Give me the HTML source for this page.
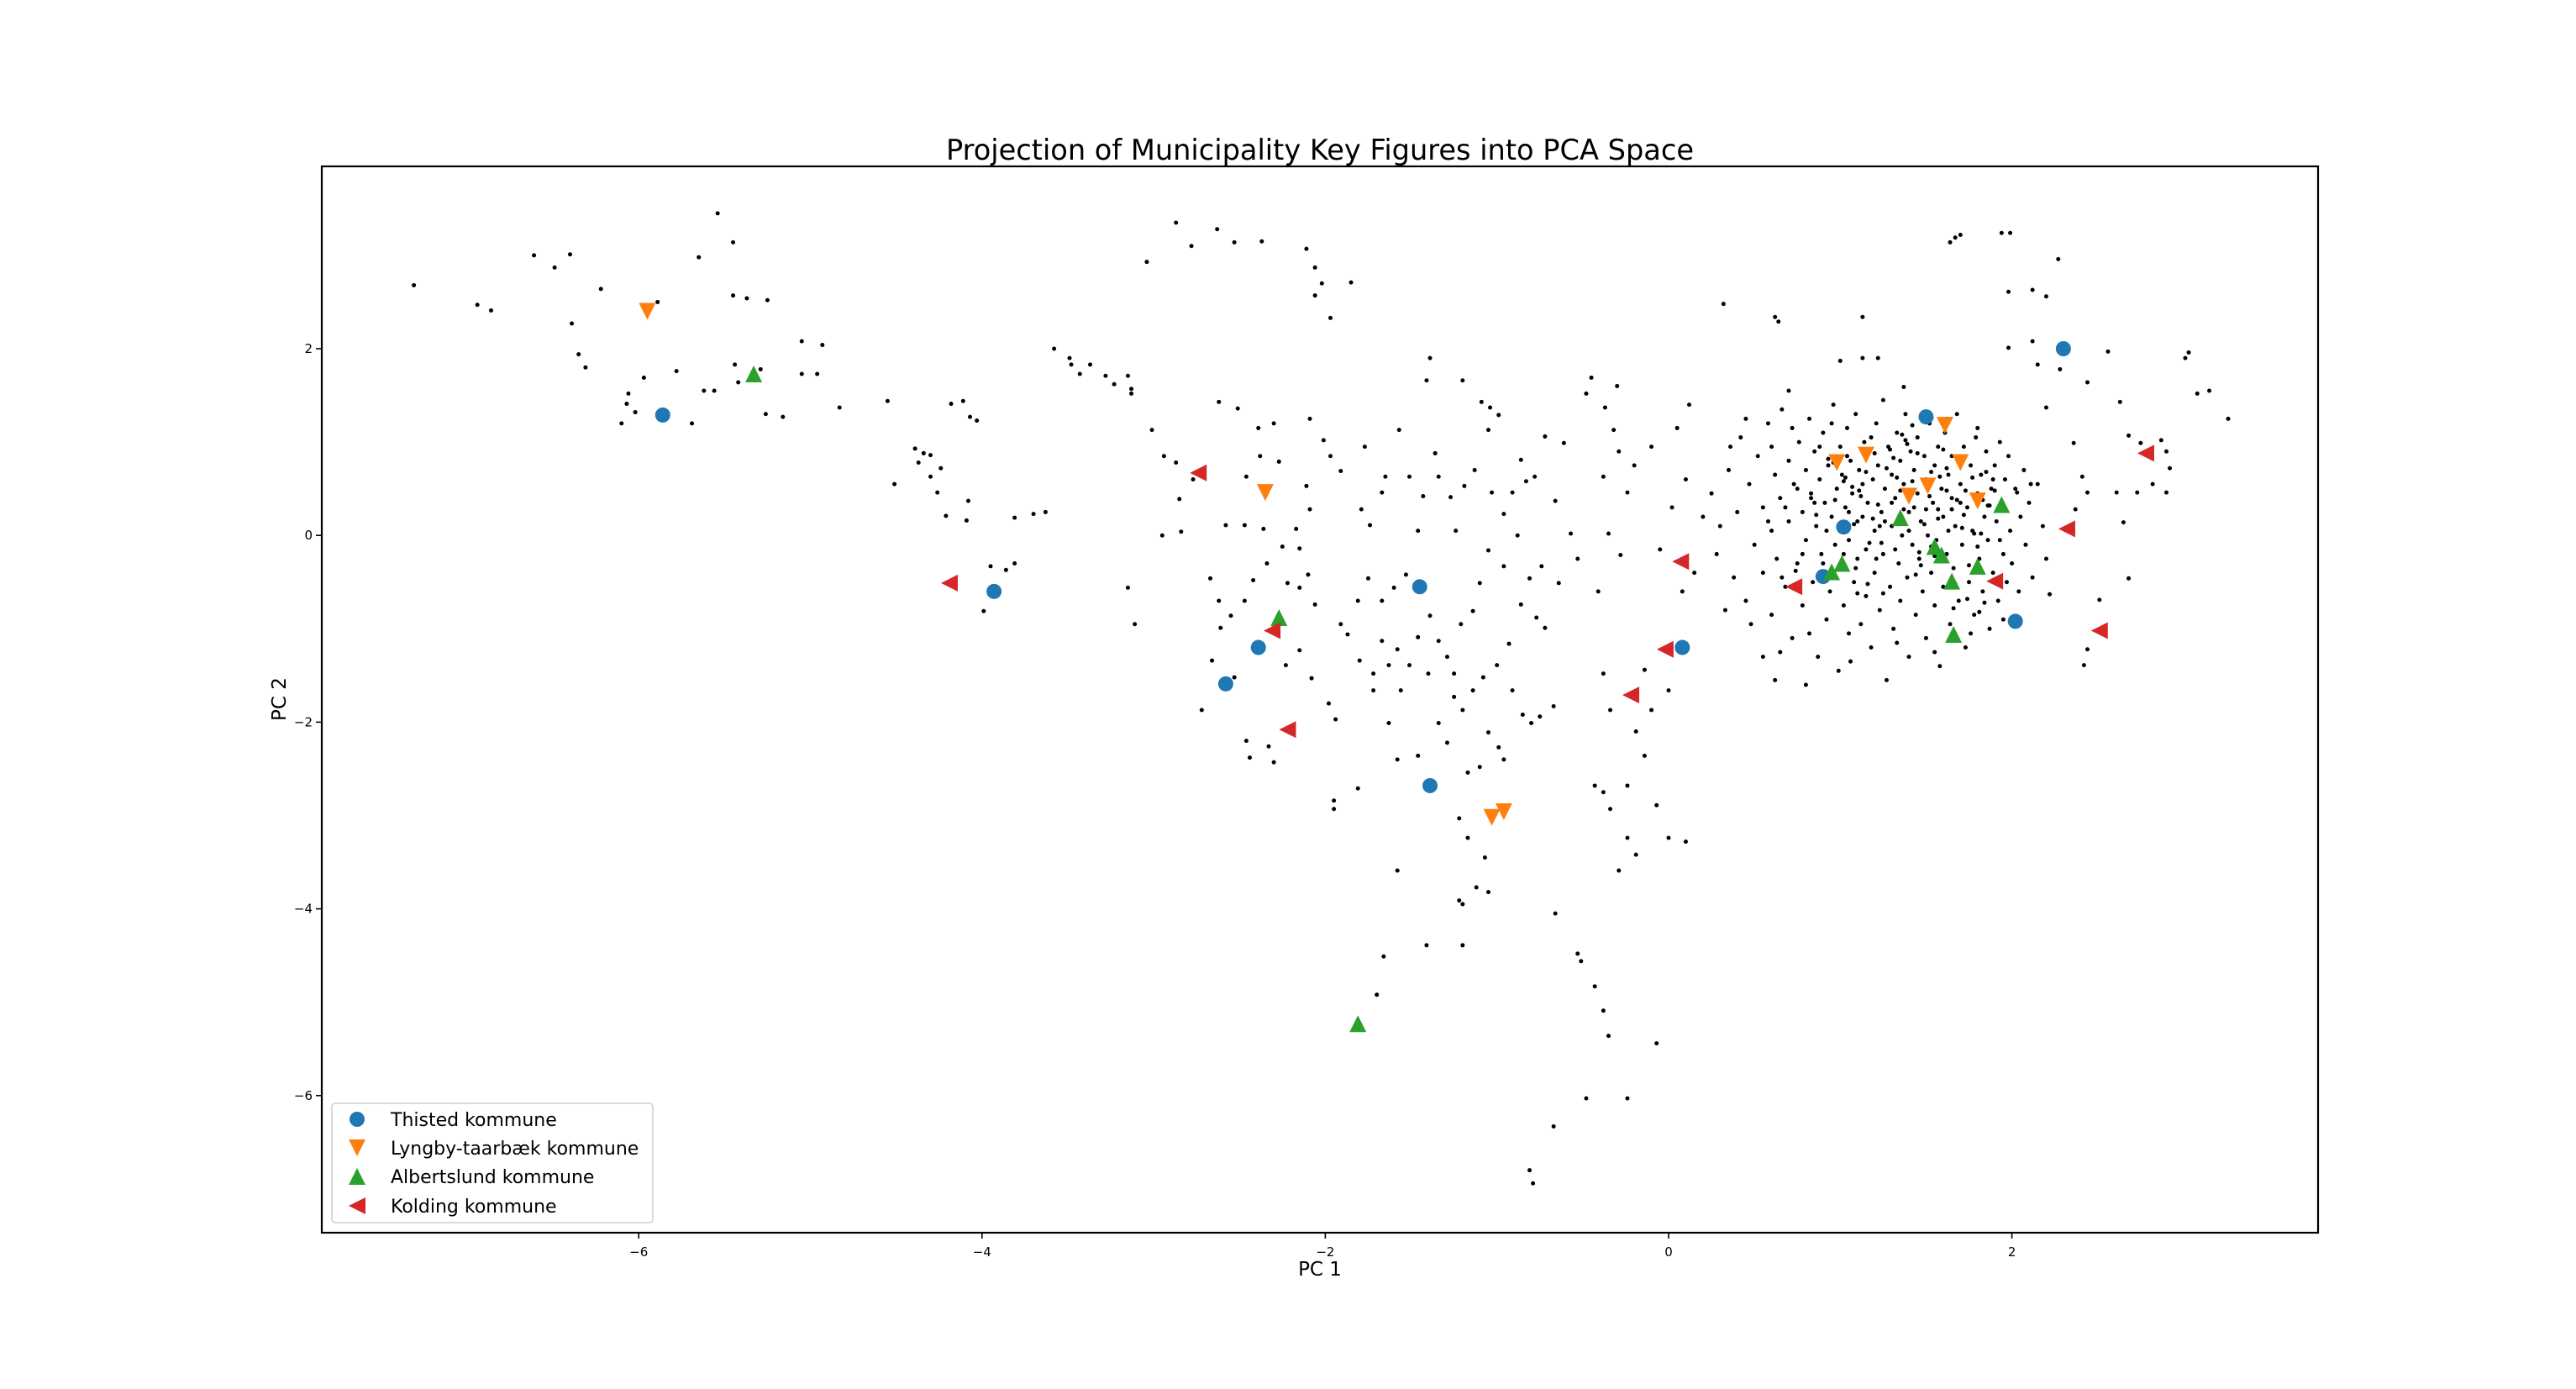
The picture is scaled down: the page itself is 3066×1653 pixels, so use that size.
<!DOCTYPE html>
<html><head><meta charset="utf-8"><style>
html,body{margin:0;padding:0;background:#fff;}
svg text{font-family:"DejaVu Sans","Liberation Sans",sans-serif;}
</style></head><body>
<svg id="chart" width="3066" height="1648" viewBox="0 0 3066 1648" xmlns="http://www.w3.org/2000/svg">
<rect x="0" y="0" width="3066" height="1648" fill="#fff"/>
<text x="1571" y="190" font-size="34" text-anchor="middle" textLength="890" lengthAdjust="spacingAndGlyphs">Projection of Municipality Key Figures into PCA Space</text>
<text x="1571" y="1518" font-size="23" text-anchor="middle">PC 1</text>
<text x="340" y="832" font-size="23" text-anchor="middle" transform="rotate(-90 340 832)">PC 2</text>
<g id="ticks"></g>
<g id="dots"></g>
<g id="specials"></g>
<rect x="383" y="198" width="2376" height="1269" fill="none" stroke="#000" stroke-width="2.2"/>
<g id="legend"></g>
</svg>
<script>
const xTicks=[-6,-4,-2,0,2];
const yTicks=[2,0,-2,-4,-6];
const dotX=[-7.31,-6.94,-6.86,-6.61,-6.49,-6.40,-6.22,-6.39,-6.35,-6.31,-6.06,-6.07,-6.10,-6.02,-5.97,-5.89,-5.78,-5.69,-5.65,-5.54,-5.45,-5.45,-5.37,-5.25,-5.62,-5.56,-5.44,-5.42,-5.29,-5.26,-5.16,-5.05,-4.93,-5.05,-4.96,-4.83,-4.55,-4.51,
-4.39,-4.34,-4.30,-4.37,-4.24,-4.30,-4.26,-4.21,-4.18,-4.11,-4.07,-4.03,-4.08,-4.09,-3.95,-3.86,-3.81,-3.99,-3.81,-3.70,-3.63,
-3.58,-3.49,-3.48,-3.43,-3.37,-3.28,-3.23,-3.15,-3.13,-3.04,-2.87,-2.78,-2.63,-2.53,-2.37,-2.11,-2.06,-2.06,-1.97,-1.85,-2.02,-3.13,-3.01,-2.94,-2.87,-2.85,-2.95,-2.84,-3.15,-3.11,-2.77,-2.62,-2.51,-2.39,-2.30,-2.38,-2.27,-2.46,-2.58,-2.47,-2.36,-2.25,-2.17,-2.15,-2.11,-2.09,-2.01,-1.97,-1.91,-2.09,-2.67,-2.62,-2.55,-2.47,-2.42,-2.34,-2.22,-2.15,-2.10,-2.06,-2.61,-2.72,-2.66,-2.53,-2.46,-2.44,-2.33,-2.30,-2.23,-2.15,-2.08,-1.98,-1.94,-1.95,-1.95,-1.81,-1.72,-1.80,
-1.91,-1.87,-1.81,-1.75,-1.67,-1.60,-1.79,-1.74,-1.67,-1.77,-1.65,-1.57,-1.51,-1.46,-1.43,-1.41,-1.39,-1.36,-1.34,-1.27,-1.24,-1.20,-1.19,-1.13,-1.09,-1.04,-1.05,-0.99,-1.03,-0.96,-0.91,-0.88,-0.86,-0.83,-0.78,-0.72,-0.66,-0.61,-0.57,-0.74,-0.81,-0.77,-0.72,-0.86,-0.93,-1.00,-1.08,-0.91,-0.85,-0.80,-0.75,-0.67,-1.14,-1.20,-1.05,-0.99,-0.96,-1.10,-1.17,-1.29,-1.34,-1.46,-1.58,-1.63,-1.56,-1.51,-1.58,-1.46,-1.39,-1.34,-1.29,-1.25,-1.21,-1.14,-1.40,-1.63,-1.67,-1.25,-1.72,-1.53,-1.10,-1.05,-0.96,-0.64,-0.53,-0.48,-0.45,-0.37,-0.32,-0.29,-0.38,-0.24,-0.35,-0.28,-0.41,-0.38,-0.34,-0.14,-0.10,-0.19,0.00,
-1.58,-1.22,-1.17,-1.07,-1.22,-1.20,-1.12,-1.05,-1.41,-1.66,-1.70,-1.20,-0.66,-0.53,-0.51,-0.67,-0.81,-0.79,-0.43,-0.38,-0.34,-0.24,-0.07,-0.24,-0.19,-0.29,0.00,0.10,-0.43,-0.38,-0.35,-0.07,-0.48,-0.24,-0.14,
0.32,0.62,0.64,1.13,1.00,1.13,1.22,1.37,1.64,1.67,1.70,1.94,1.99,2.27,1.98,2.12,2.20,1.98,2.12,2.15,2.28,2.44,2.56,2.20,2.36,2.41,2.44,2.37,2.63,2.68,2.75,2.87,2.90,2.92,2.73,2.82,2.90,2.65,2.61,2.68,2.51,2.44,2.42,3.01,3.03,3.08,3.15,3.26,2.03,2.11,2.20,2.22,
0.25,0.30,0.28,0.35,0.38,0.40,0.42,0.45,0.47,0.50,0.52,0.55,0.55,0.58,0.60,0.60,0.62,0.63,0.65,0.66,0.68,0.70,0.70,0.72,0.73,0.75,0.76,0.78,0.78,0.80,0.80,0.82,0.83,0.84,0.85,0.86,0.87,0.88,0.89,0.90,0.91,0.92,0.93,0.94,0.95,0.96,0.97,0.98,0.99,1.00,1.00,1.01,1.02,1.03,1.04,1.05,1.05,1.06,1.07,1.08,1.09,1.10,1.10,1.11,1.12,1.13,1.14,1.15,1.15,1.16,1.17,1.18,1.19,1.20,1.20,1.21,1.22,1.23,1.24,1.25,1.25,1.26,1.27,1.28,1.29,1.30,1.30,1.31,1.32,1.33,1.34,1.35,1.35,1.36,1.37,1.38,1.39,1.40,1.40,1.41,1.42,1.43,1.44,1.45,1.45,1.46,1.47,1.48,1.49,1.50,1.50,1.51,1.52,1.53,1.54,1.55,1.55,1.56,1.57,1.58,1.59,1.60,1.60,1.61,1.62,1.63,1.64,1.65,1.65,1.66,1.67,1.68,1.69,1.70,1.71,1.72,1.73,1.74,1.75,1.76,1.77,1.78,1.79,1.80,1.81,1.82,1.83,1.84,1.85,1.86,1.87,1.88,1.89,1.90,1.91,1.92,1.93,1.94,1.95,1.96,1.97,1.98,1.99,2.00,2.02,2.04,2.05,2.07,2.08,2.10,2.12,2.15,2.18,
0.92,0.97,1.03,1.08,1.12,1.17,1.22,1.27,1.32,1.37,1.42,1.47,1.52,1.57,1.62,1.67,1.72,1.77,1.82,1.87,0.85,0.95,1.05,1.15,1.25,1.35,1.45,1.55,1.65,1.75,1.85,0.75,0.88,1.00,1.10,1.20,1.30,1.40,1.50,1.60,1.70,1.80,1.90,0.68,0.78,0.90,1.02,1.13,1.23,1.33,1.43,1.53,1.63,1.73,1.83,1.93,0.60,0.72,0.95,1.18,1.42,1.62,1.80,0.48,0.65,0.82,1.06,1.33,1.55,1.76,1.95,0.33,0.20,0.15,0.10,0.36,0.45,0.70,0.55,0.62,0.80,
-0.10,0.05,0.02,-0.05,0.08,-0.20,0.12,-0.30,
1.07,1.19,1.31,1.44,1.58,1.71,1.84,0.96,1.09,1.26,1.39,1.53,1.68,1.81,0.86,1.02,1.16,1.29,1.46,1.62,1.78,0.74,0.93,1.11,1.24,1.38,1.57,1.74,1.89,0.58,0.66,0.83,1.04,1.21,1.36,1.49,1.66,1.86];
const dotY=[2.68,2.47,2.41,3.00,2.87,3.01,2.64,2.27,1.94,1.80,1.52,1.41,1.20,1.32,1.69,2.50,1.76,1.20,2.98,3.45,3.14,2.57,2.54,2.52,1.55,1.55,1.83,1.64,1.78,1.30,1.27,2.08,2.04,1.73,1.73,1.37,1.44,0.55,
0.93,0.88,0.86,0.78,0.72,0.63,0.46,0.21,1.41,1.44,1.27,1.23,0.37,0.16,-0.33,-0.37,-0.30,-0.81,0.19,0.23,0.25,
2.00,1.90,1.83,1.73,1.83,1.71,1.62,1.71,1.57,2.93,3.35,3.10,3.28,3.14,3.15,3.07,2.87,2.57,2.33,2.71,2.70,1.52,1.13,0.85,0.78,0.39,0.00,0.04,-0.56,-0.95,0.60,1.43,1.36,1.15,1.20,0.85,0.79,0.63,0.11,0.11,0.07,-0.12,0.07,-0.14,0.53,1.25,1.02,0.85,0.69,0.28,-0.46,-0.70,-0.86,-0.70,-0.48,-0.30,-0.51,-0.56,-0.42,-0.74,-0.99,-1.87,-1.34,-1.52,-2.20,-2.38,-2.26,-2.43,-1.39,-1.23,-1.53,-1.80,-1.97,-2.84,-2.93,-2.71,-1.48,-1.34,
-0.95,-1.06,-0.70,-0.46,-0.70,-0.56,0.28,0.11,0.46,0.95,0.63,1.13,0.63,0.05,0.42,1.66,1.90,0.88,0.63,0.41,0.05,1.66,0.53,0.70,1.43,1.37,1.13,1.29,0.46,0.23,0.46,0.00,0.81,0.58,0.63,1.06,0.37,0.99,0.02,-0.33,-0.46,-0.88,-0.99,-0.74,-1.16,-1.39,-1.52,-1.66,-1.92,-2.01,-1.94,-1.83,-1.66,-1.87,-2.11,-2.27,-2.40,-2.48,-2.54,-2.22,-2.01,-2.36,-2.40,-2.01,-1.66,-1.39,-1.22,-1.09,-0.86,-1.13,-1.30,-1.48,-0.95,-0.81,-1.48,-1.39,-1.13,-1.73,-1.66,-0.42,-0.51,-0.16,-0.33,-0.51,-0.25,1.52,1.69,1.37,1.13,0.90,0.63,0.46,0.02,-0.21,-0.60,-1.48,-1.87,-1.44,-1.87,-2.10,-1.66,
-3.59,-3.03,-3.24,-3.45,-3.91,-3.95,-3.77,-3.82,-4.39,-4.51,-4.92,-4.39,-4.05,-4.48,-4.56,-6.33,-6.80,-6.94,-2.68,-2.75,-2.93,-2.68,-2.89,-3.24,-3.42,-3.59,-3.24,-3.28,-4.83,-5.09,-5.36,-5.44,-6.03,-6.03,-2.36,
2.48,2.34,2.29,2.34,1.87,1.90,1.90,1.59,3.14,3.19,3.22,3.24,3.24,2.96,2.61,2.63,2.56,2.01,2.08,1.83,1.78,1.64,1.97,1.37,0.99,0.63,0.46,0.28,1.43,1.07,0.99,1.02,0.90,0.72,0.46,0.55,0.46,0.14,0.46,-0.46,-0.69,-1.22,-1.39,1.90,1.96,1.52,1.55,1.25,0.46,0.55,-0.25,-0.63,
0.45,0.10,-0.20,0.70,-0.45,0.25,1.05,-0.70,0.55,-0.10,0.85,0.30,-0.40,1.20,0.05,-0.85,0.65,-0.25,0.40,1.35,-0.55,0.80,0.15,-1.10,0.55,-0.30,1.00,0.25,-0.75,0.70,-0.05,1.25,0.45,-0.50,0.90,0.10,-1.30,0.60,-0.20,1.10,0.35,-0.90,0.75,-0.60,0.20,1.40,-0.10,0.50,-1.45,0.95,-0.35,0.65,-0.75,0.30,1.15,-0.05,-1.05,0.80,0.45,-0.50,1.30,0.15,-0.25,0.70,-0.95,0.55,1.00,-0.15,-0.65,0.35,0.90,-1.20,0.60,0.05,-0.40,1.20,0.75,-0.80,0.25,1.45,-0.20,0.50,-1.55,0.95,-0.55,0.10,0.65,-1.00,0.40,1.10,-0.30,0.80,-0.70,0.00,0.55,1.30,-0.45,0.25,-1.30,0.90,-0.10,0.70,-0.85,0.45,1.05,-0.25,0.15,-0.60,0.85,-1.10,0.60,0.00,1.20,-0.40,0.35,0.75,-0.75,-0.05,0.95,-1.40,0.50,0.20,-0.55,1.10,-0.20,0.65,-0.95,0.40,0.85,-0.35,0.10,1.30,-0.70,0.55,-0.10,0.95,-1.20,0.30,-0.50,0.75,0.05,-0.85,1.05,0.45,-0.25,0.65,-0.60,0.20,0.90,-0.05,-1.00,0.50,-0.40,0.75,0.15,-0.70,1.00,0.35,-0.20,0.60,-0.50,0.85,0.05,-0.30,0.50,-0.60,0.20,0.70,-0.10,0.35,-0.45,0.55,0.10,
0.05,0.38,0.62,0.12,0.42,-0.08,0.33,0.72,-0.15,0.28,0.58,-0.32,0.42,0.18,0.48,-0.52,0.22,0.62,0.02,0.32,0.35,-0.45,0.25,0.68,-0.62,0.48,0.88,-0.22,0.28,-0.32,0.68,0.50,0.95,0.12,-0.62,0.88,0.35,0.05,0.28,0.92,0.35,-0.12,0.48,0.30,-0.20,-0.30,-0.20,0.20,0.10,0.62,0.30,0.68,0.05,0.48,0.38,-0.05,0.95,1.15,1.20,1.05,1.18,1.25,1.15,-0.95,-1.25,-1.05,-1.35,-1.15,-1.25,-1.05,-0.90,-0.80,0.20,-0.40,0.60,0.95,1.25,1.55,-1.30,-1.55,-1.60,
0.95,1.15,0.30,-0.15,-0.60,0.75,1.40,1.60,
0.52,0.18,0.83,-0.42,0.63,0.08,-0.72,0.78,-0.35,0.15,0.98,-0.12,0.38,-0.82,0.22,0.58,-0.52,0.92,-0.18,0.72,0.02,-0.38,0.82,0.48,-0.08,1.02,0.28,-0.68,0.60,0.15,-0.45,0.40,0.85,-0.25,1.08,0.12,-0.78,0.32];
const thistedX=[2.30,1.50,-5.86,1.02,0.90,2.02,-3.93,-1.45,-2.39,-2.58,0.08,-1.39];
const thistedY=[2.00,1.27,1.29,0.09,-0.44,-0.92,-0.60,-0.55,-1.20,-1.59,-1.20,-2.68];
const lyngbyX=[-5.95,-2.35,0.98,1.15,1.61,1.70,1.51,1.40,1.80,-1.03,-0.96];
const lyngbyY=[2.40,0.46,0.78,0.86,1.18,0.78,0.53,0.42,0.37,-3.02,-2.96];
const albertX=[-5.33,1.35,1.94,1.55,1.59,1.01,0.95,1.65,1.80,1.66,-2.27,-1.81];
const albertY=[1.73,0.19,0.33,-0.12,-0.21,-0.30,-0.39,-0.49,-0.33,-1.06,-0.88,-5.23];
const koldingX=[-4.19,-2.74,-2.31,-2.22,-0.02,-0.22,0.07,0.73,1.90,2.32,2.51,2.78];
const koldingY=[-0.51,0.67,-1.02,-2.08,-1.22,-1.71,-0.28,-0.55,-0.49,0.07,-1.02,0.88];

const NS='http://www.w3.org/2000/svg';
const X0=1986, XS=204.3, Y0=637.2, YS=111.1;
function sx(v){return X0+v*XS;}
function sy(v){return Y0-v*YS;}
function mk(tag,attrs,parent){const e=document.createElementNS(NS,tag);for(const k in attrs)e.setAttribute(k,attrs[k]);parent.appendChild(e);return e;}
const ticks=document.getElementById('ticks');
xTicks.forEach(t=>{
  const l=mk('line',{x1:sx(t),x2:sx(t),y1:1467,y2:1474,stroke:'#000','stroke-width':1.6},ticks);
  
  
  const tx=mk('text',{x:sx(t),y:1495,'font-size':15,'text-anchor':'middle'},ticks);
  tx.textContent=(t<0?'\u2212'+(-t):String(t));
  
  
});
yTicks.forEach(t=>{
  const l=mk('line',{x1:376,x2:383,y1:sy(t),y2:sy(t),stroke:'#000','stroke-width':1.6},ticks);
  
  
  const tx=mk('text',{x:372,y:sy(t)+5,'font-size':15,'text-anchor':'end'},ticks);
  tx.textContent=(t<0?'\u2212'+(-t):String(t));
  
  
});
const dots=document.getElementById('dots');
const n=Math.min(dotX.length,dotY.length);
for(let i=0;i<n;i++){
  const c=mk('circle',{cx:sx(dotX[i]),cy:sy(dotY[i]),r:2.5,fill:'#000'},dots);
  
  
}
function marker(kind,cx,cy,color,parent){
  const s=10;
  let e;
  if(kind==='circle'){e=mk('circle',{cx:cx,cy:cy,r:9,fill:color},parent);}
  else if(kind==='down'){e=mk('polygon',{points:`${cx-s},${cy-s} ${cx+s},${cy-s} ${cx},${cy+s}`,fill:color},parent);}
  else if(kind==='up'){e=mk('polygon',{points:`${cx-s},${cy+s} ${cx+s},${cy+s} ${cx},${cy-s}`,fill:color},parent);}
  else {e=mk('polygon',{points:`${cx+s},${cy-s} ${cx+s},${cy+s} ${cx-s},${cy}`,fill:color},parent);}
  return e;
}
const sp=document.getElementById('specials');
const series=[
  {xs:thistedX,ys:thistedY,kind:'circle',color:'#1f77b4',label:'Thisted kommune'},
  {xs:lyngbyX,ys:lyngbyY,kind:'down',color:'#ff7f0e',label:'Lyngby-taarbæk kommune'},
  {xs:albertX,ys:albertY,kind:'up',color:'#2ca02c',label:'Albertslund kommune'},
  {xs:koldingX,ys:koldingY,kind:'left',color:'#d62728',label:'Kolding kommune'}
];
series.forEach(s=>{
  for(let i=0;i<s.xs.length;i++){
    const e=marker(s.kind,sx(s.xs[i]),sy(s.ys[i]),s.color,sp);
    
    
  }
});
const lg=document.getElementById('legend');
const box=mk('rect',{x:395,y:1313,width:382,height:142,rx:4,fill:'#fff','fill-opacity':0.85,stroke:'#d0d0d0','stroke-width':1.6},lg);


const rows=[1332,1366,1400,1435];
series.forEach((s,i)=>{
  const e=marker(s.kind,425,rows[i],s.color,lg);
  
  
  const t=mk('text',{x:465,y:rows[i]+8,'font-size':22},lg);
  t.textContent=s.label;
  
  
});
</script>
</body></html>
